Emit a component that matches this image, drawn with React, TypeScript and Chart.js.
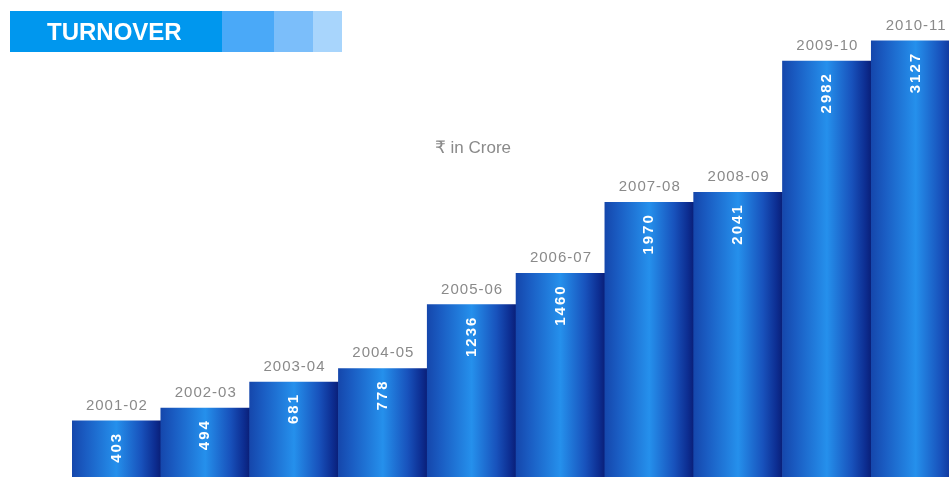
import React, { useEffect, useRef } from "react";
import { Chart, registerables } from "chart.js";

Chart.register(...registerables);

const years = ["2001-02", "2002-03", "2003-04", "2004-05", "2005-06", "2006-07", "2007-08", "2008-09", "2009-10", "2010-11"];
const turnover = [403, 494, 681, 778, 1236, 1460, 1970, 2041, 2982, 3127];
const title = "TURNOVER";
const unitLabel = "₹ in Crore";

const FONT = "'Liberation Sans', Arial, 'DejaVu Sans', sans-serif";
const X_MIN = -0.5;
const X_MAX = 9.375;

export default function App() {
  const ref = useRef<HTMLCanvasElement | null>(null);

  useEffect(() => {
    const canvas = ref.current;
    if (!canvas) return;

    const labelPlugin = {
      id: "labels",
      beforeDraw(chart: any) {
        const ctx = chart.ctx;
        ctx.save();
        ctx.fillStyle = "#ffffff";
        ctx.fillRect(0, 0, chart.width, chart.height);
        ctx.restore();
      },
      beforeDatasetsDraw(chart: any) {
        const ctx = chart.ctx as CanvasRenderingContext2D;
        const meta = chart.getDatasetMeta(0);
        meta.data.forEach((bar: any) => {
          const w = bar.width;
          const cx = bar.x;
          if (!isFinite(cx) || !isFinite(w)) return;
          const g = ctx.createLinearGradient(cx - w / 2, 0, cx + w / 2, 0);
          g.addColorStop(0, "#1547ac");
          g.addColorStop(0.15, "#1a5cc2");
          g.addColorStop(0.5, "#2590ec");
          g.addColorStop(0.78, "#1852bc");
          g.addColorStop(0.93, "#0d2e92");
          g.addColorStop(1, "#0a1f78");
          bar.options = Object.assign({}, bar.options, { backgroundColor: g });
        });
      },
      afterDatasetsDraw(chart: any) {
        const ctx = chart.ctx as CanvasRenderingContext2D;
        const meta = chart.getDatasetMeta(0);
        ctx.save();
        meta.data.forEach((bar: any, i: number) => {
          ctx.font = `15px ${FONT}`;
          (ctx as any).letterSpacing = "1px";
          ctx.fillStyle = "#8a8a8a";
          ctx.textAlign = "center";
          ctx.textBaseline = "alphabetic";
          ctx.fillText(years[i], bar.x + 0.5, bar.y - 11);
          ctx.save();
          ctx.translate(bar.x, bar.y + 13);
          ctx.rotate(-Math.PI / 2);
          ctx.font = `bold 15px ${FONT}`;
          (ctx as any).letterSpacing = "2px";
          ctx.fillStyle = "#ffffff";
          ctx.textAlign = "right";
          ctx.textBaseline = "middle";
          ctx.fillText(String(turnover[i]), 2, 0);
          ctx.restore();
        });

        (ctx as any).letterSpacing = "0px";
        ctx.font = `17px ${FONT}`;
        ctx.fillStyle = "#8a8a8a";
        ctx.textAlign = "center";
        ctx.textBaseline = "alphabetic";
        ctx.fillText(unitLabel, 473, 153);

        ctx.fillStyle = "#0097ee";
        ctx.fillRect(10, 11, 212, 41);
        ctx.fillStyle = "#4aa9f8";
        ctx.fillRect(222, 11, 52, 41);
        ctx.fillStyle = "#7bbefa";
        ctx.fillRect(274, 11, 39, 41);
        ctx.fillStyle = "#a8d5fc";
        ctx.fillRect(313, 11, 29, 41);
        ctx.font = `bold 24px ${FONT}`;
        ctx.fillStyle = "#ffffff";
        ctx.textAlign = "left";
        ctx.textBaseline = "middle";
        ctx.fillText(title, 47, 33);
        ctx.restore();
      },
    };

    const barThickness = (949 - 72) / (X_MAX - X_MIN);

    const chart = new Chart(canvas, {
      type: "bar",
      data: {
        datasets: [
          {
            data: turnover.map((v, i) => ({ x: i, y: v })),
            barThickness,
            borderWidth: 0,
            backgroundColor: "#1f6fd0",
          },
        ],
      },
      options: {
        animation: false,
        responsive: false,
        maintainAspectRatio: false,
        layout: { padding: { left: 72, right: 0, top: 0, bottom: 0 } },
        plugins: { legend: { display: false }, tooltip: { enabled: false } },
        scales: {
          x: { type: "linear", min: X_MIN, max: X_MAX, offset: false, bounds: "data", display: false, grid: { display: false, offset: false } },
          y: { min: 0, max: 3420, display: false, grid: { display: false } },
        },
      },
      plugins: [labelPlugin],
    });

    return () => chart.destroy();
  }, []);

  return (
    <div style={{ position: "fixed", left: 0, top: 0, width: 949, height: 477, background: "#fff" }}>
      <canvas ref={ref} width={949} height={477} style={{ display: "block", width: 949, height: 477 }} />
    </div>
  );
}
